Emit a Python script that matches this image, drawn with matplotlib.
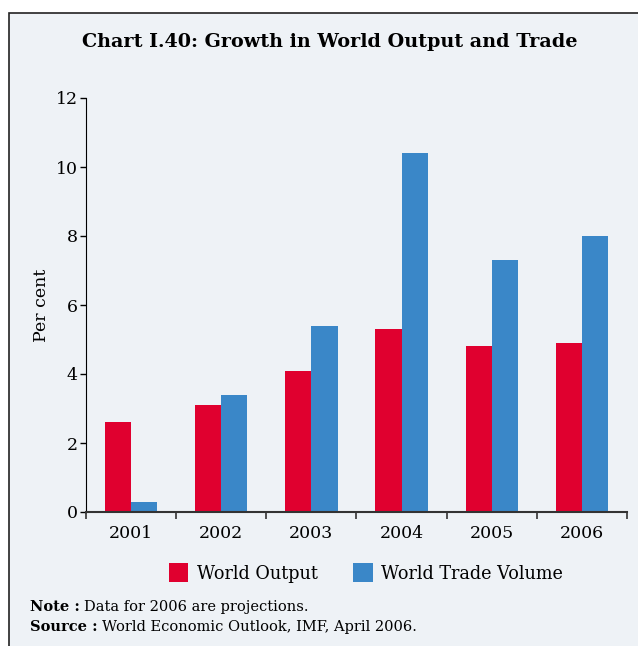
import matplotlib
matplotlib.use("Agg")
import matplotlib.pyplot as plt
from matplotlib.patches import Rectangle
import numpy as np

years = ["2001", "2002", "2003", "2004", "2005", "2006"]
world_output = [2.6, 3.1, 4.1, 5.3, 4.8, 4.9]
world_trade = [0.3, 3.4, 5.4, 10.4, 7.3, 8.0]
yticks = [0, 2, 4, 6, 8, 10, 12]

plt.rcParams['font.family'] = ['DejaVu Serif']
BG = "#eef2f6"
RED = "#e0002f"
BLUE = "#3a87c8"

W, H = 638, 646
fig = plt.figure(figsize=(W/100, H/100), dpi=100)
fig.patch.set_facecolor("white")

# panel border
fig.patches.append(Rectangle((9/W, -0.01), 1.0, 1 - 13/H + 0.01, transform=fig.transFigure,
                             facecolor=BG, edgecolor="#222222", linewidth=1.2, zorder=-10))

ax = fig.add_axes([86/W, 1 - 512/H, (627-86)/W, (512-98)/H])
ax.set_facecolor("none")
x = np.arange(len(years))
w = 0.29
ax.bar(x - w/2, world_output, width=w, color=RED, label="World Output")
ax.bar(x + w/2, world_trade, width=w, color=BLUE, label="World Trade Volume")

ax.set_xlim(-0.5, len(years) - 0.5)
ax.set_ylim(0, 12)
ax.set_yticks(yticks)
ax.set_yticklabels([str(t) for t in yticks], fontsize=12.5)
ax.set_xticks(x)
ax.set_xticklabels(years, fontsize=12.5)
ax.tick_params(axis='x', which='major', length=0, pad=9)
ax.set_xticks(np.arange(-0.5, len(years), 1.0), minor=True)
ax.tick_params(axis='x', which='minor', length=5, direction='out', width=1.2, color="#333333")
ax.tick_params(axis='y', length=4, direction='out', pad=2, width=1)
for s in ["top", "right"]:
    ax.spines[s].set_visible(False)
ax.spines["left"].set_color("black")
ax.spines["bottom"].set_color("#333333")
ax.spines["bottom"].set_linewidth(1.5)
ax.set_ylabel("Per cent", fontsize=12.5, labelpad=4)

fig.text(330/W, 1 - 42/H, "Chart I.40: Growth in World Output and Trade", ha="center", va="center",
         fontsize=13.8, fontweight="bold")

fig.legend(loc="center", bbox_to_anchor=(366/W, 1 - 573/H), ncol=2, frameon=False,
           fontsize=12.7, handlelength=1.1, handleheight=1.3, columnspacing=2.0, handletextpad=0.5)


def two_part(xpix, ypix, bold, normal):
    tb = fig.text(xpix/W, 1 - ypix/H, bold, fontsize=10.5, va="center", fontweight="bold")
    fig.canvas.draw()
    bb = tb.get_window_extent()
    fig.text((bb.x1 + 4)/W, 1 - ypix/H, normal, fontsize=10.5, va="center")


two_part(30, 607, "Note :", "Data for 2006 are projections.")
two_part(30, 627, "Source :", "World Economic Outlook, IMF, April 2006.")

fig.savefig("out.png", dpi=100, facecolor=fig.get_facecolor())
